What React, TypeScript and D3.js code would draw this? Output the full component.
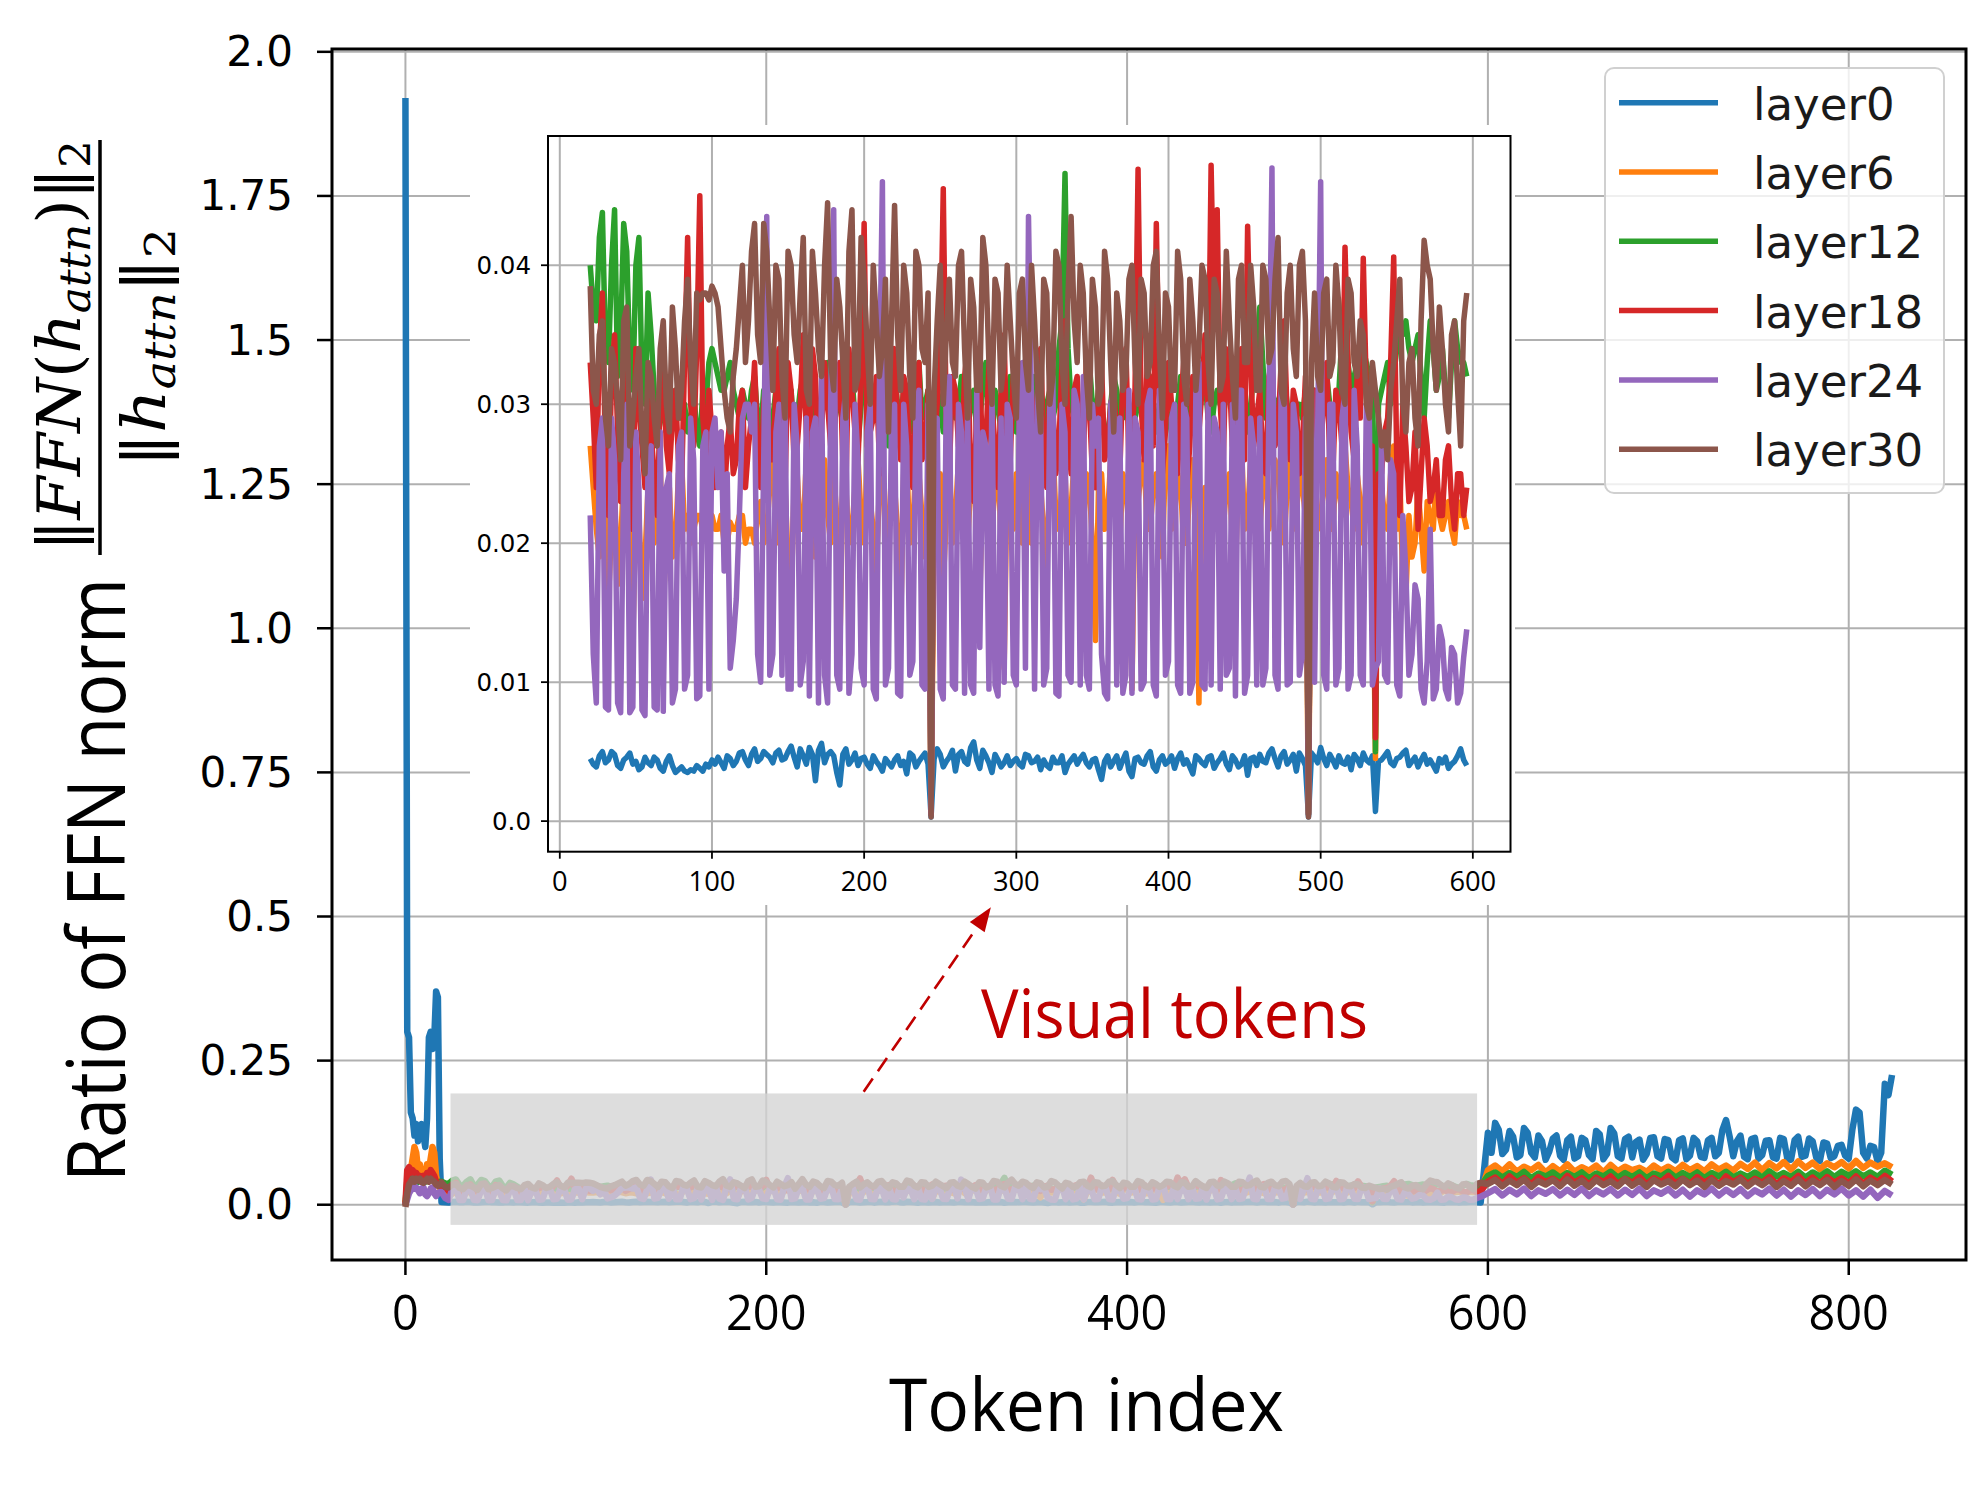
import React from "react";
import * as d3 from "d3";

const W = 1980;
const H = 1507;

const LAYERS = ["layer0", "layer6", "layer12", "layer18", "layer24", "layer30"];
const COLORS = ["#1f77b4", "#ff7f0e", "#2ca02c", "#d62728", "#9467bd", "#8c564b"];

// token indices: system prefix, visual tokens (two interleaved samplings), text tokens
const PREFIX_TOKENS = d3.range(0, 20);
const VIS_TOKENS = d3.range(20, 597, 4);
const VIS_TOKENS_B = d3.range(22, 595, 4);
const TEXT_TOKENS = d3.range(600, 825, 4);
const TEXT_TOKENS_B = d3.range(602, 823, 4);

// ---- prefix tokens 0..19
const PRE_L0 = [1.92, 0.3, 0.29, 0.16, 0.15, 0.12, 0.14, 0.11, 0.13, 0.14, 0.12, 0.1, 0.15, 0.29, 0.3, 0.27, 0.29, 0.37, 0.36, 0.08];
const PRE_L6 = [0.0, 0.03, 0.05, 0.06, 0.08, 0.1, 0.09, 0.06, 0.07, 0.05, 0.06, 0.05, 0.07, 0.06, 0.08, 0.1, 0.09, 0.05, 0.035, 0.03];
const PRE_L12 = [0.0, 0.04, 0.05, 0.045, 0.05, 0.04, 0.045, 0.04, 0.045, 0.04, 0.045, 0.04, 0.05, 0.045, 0.05, 0.045, 0.04, 0.04, 0.038, 0.04];
const PRE_L18 = [0.0, 0.06, 0.065, 0.055, 0.06, 0.05, 0.055, 0.045, 0.05, 0.04, 0.05, 0.045, 0.055, 0.05, 0.06, 0.055, 0.05, 0.04, 0.035, 0.033];
const PRE_L24 = [0.0, 0.01, 0.02, 0.025, 0.03, 0.028, 0.03, 0.025, 0.02, 0.028, 0.03, 0.018, 0.015, 0.02, 0.028, 0.03, 0.02, 0.015, 0.02, 0.022];
const PRE_L30 = [-0.004, 0.02, 0.035, 0.04, 0.045, 0.04, 0.045, 0.042, 0.045, 0.04, 0.038, 0.042, 0.045, 0.04, 0.045, 0.042, 0.04, 0.035, 0.033, 0.035];

// ---- visual tokens 20, 24, ..., 596
const VIS_L0 = [
  0.0045, 0.0039, 0.005, 0.0044, 0.0048, 0.0038, 0.0046, 0.0041, 0.0037, 0.0046,
  0.004, 0.0044, 0.0036, 0.0047, 0.0035, 0.0039, 0.0035, 0.0036, 0.0038, 0.0041,
  0.0044, 0.0046, 0.0038, 0.0045, 0.0043, 0.005, 0.004, 0.0052, 0.0045, 0.0048,
  0.0042, 0.0051, 0.0045, 0.0054, 0.0039, 0.0047, 0.0053, 0.0029, 0.0056, 0.0048,
  0.0047, 0.0026, 0.0052, 0.0044, 0.004, 0.0046, 0.0038, 0.0043, 0.0036, 0.0042,
  0.0044, 0.004, 0.0034, 0.0047, 0.0043, 0.0049, 0.0003, 0.0052, 0.0039, 0.0046,
  0.0036, 0.005, 0.0041, 0.0057, 0.0038, 0.0047, 0.0035, 0.0044, 0.0042, 0.004,
  0.0045, 0.0039, 0.0047, 0.0043, 0.0037, 0.004, 0.0046, 0.0042, 0.0035, 0.0044,
  0.0041, 0.0048, 0.0039, 0.0045, 0.003, 0.0047, 0.0043, 0.0038, 0.0049, 0.0032,
  0.0046, 0.0041, 0.005, 0.0036, 0.0047, 0.0043, 0.0038, 0.0049, 0.0044, 0.0034,
  0.0045, 0.004, 0.0047, 0.0042, 0.0049, 0.0037, 0.0044, 0.0041, 0.0033, 0.0046,
  0.0048, 0.0042, 0.0052, 0.0039, 0.005, 0.0044, 0.0036, 0.0045, 0.0003, 0.0046,
  0.0053, 0.004, 0.0044, 0.0047, 0.0041, 0.0037, 0.0045, 0.0049, 0.0042, 0.0007,
  0.0044, 0.005, 0.004, 0.0046, 0.0051, 0.0043, 0.0039, 0.0048, 0.0044, 0.0036,
  0.0042, 0.0038, 0.0043, 0.0052, 0.004,
];
const VIS_L6 = [
  0.027, 0.021, 0.025, 0.016, 0.024, 0.02, 0.026, 0.013, 0.022, 0.019,
  0.025, 0.021, 0.015, 0.024, 0.02, 0.026, 0.022, 0.021, 0.022, 0.021,
  0.022, 0.021, 0.02, 0.0215, 0.021, 0.022, 0.021, 0.02, 0.023, 0.021,
  0.026, 0.02, 0.024, 0.016, 0.025, 0.021, 0.027, 0.019, 0.023, 0.022,
  0.025, 0.012, 0.024, 0.021, 0.026, 0.02, 0.023, 0.018, 0.027, 0.021,
  0.024, 0.014, 0.026, 0.021, 0.025, 0.019, 0.0006, 0.023, 0.017, 0.026,
  0.022, 0.025, 0.02, 0.027, 0.016, 0.024, 0.021, 0.026, 0.011, 0.023,
  0.025, 0.02, 0.026, 0.022, 0.024, 0.018, 0.027, 0.021, 0.025, 0.0225,
  0.026, 0.021, 0.024, 0.013, 0.025, 0.022, 0.027, 0.02, 0.024, 0.0095,
  0.023, 0.026, 0.021, 0.025, 0.019, 0.027, 0.022, 0.024, 0.02, 0.026,
  0.0085, 0.024, 0.022, 0.026, 0.021, 0.025, 0.018, 0.027, 0.022, 0.024,
  0.021, 0.026, 0.023, 0.025, 0.02, 0.027, 0.022, 0.024, 0.0006, 0.025,
  0.022, 0.026, 0.021, 0.024, 0.027, 0.023, 0.025, 0.02, 0.026, 0.0045,
  0.024, 0.021, 0.027, 0.025, 0.016, 0.019, 0.024, 0.018, 0.022, 0.025,
  0.021, 0.023, 0.02, 0.022, 0.021,
];
const VIS_L12 = [
  0.04, 0.036, 0.0438, 0.033, 0.044, 0.035, 0.041, 0.031, 0.042, 0.03,
  0.035, 0.027, 0.03, 0.028, 0.031, 0.029, 0.028, 0.031, 0.027, 0.03,
  0.034, 0.032, 0.031, 0.033, 0.03, 0.031, 0.029, 0.032, 0.028, 0.03,
  0.029, 0.033, 0.028, 0.031, 0.029, 0.032, 0.027, 0.03, 0.029, 0.033,
  0.028, 0.031, 0.029, 0.032, 0.027, 0.034, 0.028, 0.03, 0.029, 0.027,
  0.032, 0.029, 0.031, 0.028, 0.033, 0.03, 0.0005, 0.031, 0.028, 0.03,
  0.029, 0.032, 0.028, 0.031, 0.029, 0.033, 0.027, 0.03, 0.029, 0.032,
  0.028, 0.031, 0.03, 0.032, 0.027, 0.03, 0.029, 0.034, 0.0466, 0.03,
  0.031, 0.028, 0.033, 0.029, 0.03, 0.027, 0.032, 0.029, 0.031, 0.028,
  0.03, 0.029, 0.032, 0.028, 0.031, 0.029, 0.027, 0.032, 0.029, 0.03,
  0.029, 0.032, 0.028, 0.031, 0.029, 0.033, 0.029, 0.03, 0.028, 0.032,
  0.037, 0.029, 0.031, 0.03, 0.032, 0.028, 0.03, 0.029, 0.0005, 0.031,
  0.03, 0.032, 0.029, 0.031, 0.038, 0.031, 0.033, 0.034, 0.032, 0.005,
  0.031, 0.033, 0.032, 0.035, 0.036, 0.033, 0.035, 0.029, 0.036, 0.031,
  0.034, 0.029, 0.036, 0.033, 0.032,
];
const VIS_L18 = [
  0.033, 0.024, 0.038, 0.022, 0.035, 0.023, 0.036, 0.021, 0.03, 0.024,
  0.028, 0.022, 0.034, 0.025, 0.031, 0.024, 0.042, 0.027, 0.045, 0.026,
  0.028, 0.025, 0.023, 0.029, 0.026, 0.031, 0.027, 0.033, 0.024, 0.032,
  0.026, 0.034, 0.024, 0.031, 0.027, 0.035, 0.025, 0.032, 0.028, 0.03,
  0.027, 0.033, 0.024, 0.031, 0.026, 0.043, 0.028, 0.032, 0.025, 0.03,
  0.034, 0.026, 0.031, 0.024, 0.033, 0.027, 0.0005, 0.03, 0.0455, 0.025,
  0.031, 0.026, 0.034, 0.023, 0.032, 0.027, 0.03, 0.024, 0.035, 0.026,
  0.033, 0.025, 0.031, 0.028, 0.034, 0.024, 0.03, 0.027, 0.036, 0.025,
  0.032, 0.026, 0.03, 0.024, 0.033, 0.027, 0.031, 0.025, 0.034, 0.028,
  0.0469, 0.026, 0.031, 0.043, 0.025, 0.033, 0.027, 0.03, 0.024, 0.032,
  0.028, 0.035, 0.0472, 0.044, 0.026, 0.032, 0.029, 0.034, 0.0428, 0.027,
  0.031, 0.025, 0.033, 0.028, 0.036, 0.026, 0.03, 0.027, 0.0005, 0.031,
  0.027, 0.033, 0.025, 0.03, 0.0413, 0.028, 0.032, 0.0405, 0.026, 0.006,
  0.025, 0.029, 0.0406, 0.022, 0.027, 0.024, 0.021, 0.029, 0.023, 0.026,
  0.022, 0.027, 0.021, 0.025, 0.024,
];
const VIS_L24 = [
  0.022, 0.0085, 0.029, 0.008, 0.026, 0.0078, 0.03, 0.0082, 0.024, 0.0076,
  0.027, 0.008, 0.0079, 0.025, 0.0095, 0.028, 0.0105, 0.026, 0.009, 0.028,
  0.028, 0.024, 0.018, 0.011, 0.016, 0.029, 0.03, 0.03, 0.01, 0.0435,
  0.012, 0.03, 0.031, 0.0095, 0.027, 0.0115, 0.009, 0.029, 0.032, 0.0085,
  0.044, 0.0095, 0.031, 0.012, 0.026, 0.0098, 0.03, 0.0088, 0.046, 0.011,
  0.03, 0.009, 0.027, 0.0115, 0.031, 0.0095, 0.0005, 0.029, 0.0088, 0.032,
  0.0095, 0.028, 0.03, 0.0092, 0.0125, 0.027, 0.031, 0.009, 0.01, 0.029,
  0.0098, 0.033, 0.0435, 0.0095, 0.029, 0.011, 0.032, 0.009, 0.028, 0.01,
  0.03, 0.032, 0.0095, 0.027, 0.012, 0.0088, 0.031, 0.029, 0.0105, 0.0092,
  0.028, 0.01, 0.031, 0.009, 0.027, 0.0115, 0.03, 0.0092, 0.029, 0.01,
  0.033, 0.0095, 0.0098, 0.028, 0.03, 0.011, 0.009, 0.031, 0.0105, 0.027,
  0.029, 0.011, 0.047, 0.0095, 0.032, 0.01, 0.028, 0.012, 0.0005, 0.01,
  0.046, 0.0095, 0.03, 0.011, 0.031, 0.0105, 0.027, 0.0098, 0.029, 0.011,
  0.028, 0.01, 0.025, 0.009, 0.018, 0.012, 0.016, 0.0085, 0.021, 0.0095,
  0.013, 0.0088, 0.012, 0.0092, 0.0138,
];
const VIS_L30 = [
  0.0385, 0.03, 0.036, 0.027, 0.033, 0.026, 0.037, 0.029, 0.034, 0.025,
  0.032, 0.027, 0.036, 0.028, 0.034, 0.031, 0.039, 0.03, 0.0375, 0.038,
  0.0385, 0.037, 0.031, 0.028, 0.034, 0.04, 0.036, 0.043, 0.033, 0.041,
  0.031, 0.039, 0.029, 0.04, 0.033, 0.042, 0.03, 0.038, 0.032, 0.0445,
  0.031, 0.037, 0.029, 0.044, 0.032, 0.039, 0.03, 0.036, 0.034, 0.028,
  0.0443, 0.031, 0.038, 0.029, 0.04, 0.033, 0.0003, 0.036, 0.03, 0.039,
  0.032, 0.041, 0.029, 0.037, 0.031, 0.04, 0.03, 0.038, 0.033, 0.036,
  0.029, 0.039, 0.031, 0.036, 0.028, 0.038, 0.032, 0.04, 0.03, 0.0435,
  0.033, 0.038, 0.029, 0.037, 0.031, 0.039, 0.028, 0.036, 0.032, 0.04,
  0.03, 0.038, 0.033, 0.041, 0.029, 0.037, 0.031, 0.039, 0.03, 0.036,
  0.034, 0.039, 0.03, 0.038, 0.032, 0.036, 0.029, 0.04, 0.033, 0.037,
  0.031, 0.039, 0.034, 0.042, 0.03, 0.04, 0.032, 0.041, 0.0003, 0.038,
  0.031, 0.039, 0.033, 0.037, 0.03, 0.038, 0.032, 0.035, 0.029, 0.031,
  0.027, 0.026, 0.033, 0.039, 0.028, 0.034, 0.027, 0.0418, 0.039, 0.031,
  0.034, 0.028, 0.036, 0.027, 0.038,
];

// ---- visual tokens 22, 26, ..., 594
const VIS_L0_B = [
  0.0041, 0.0047, 0.0042, 0.005, 0.004, 0.0044, 0.0049, 0.0043, 0.0039, 0.0042,
  0.0046, 0.0038, 0.0043, 0.004, 0.0037, 0.0036, 0.0037, 0.004, 0.0036, 0.0039,
  0.0041, 0.0042, 0.0047, 0.004, 0.0049, 0.0044, 0.0048, 0.0043, 0.005, 0.0046,
  0.0049, 0.0044, 0.005, 0.0046, 0.0052, 0.0041, 0.0048, 0.0051, 0.0042, 0.005,
  0.0035, 0.0048, 0.0041, 0.0049, 0.0045, 0.0041, 0.0047, 0.004, 0.0045, 0.0039,
  0.0047, 0.0043, 0.0049, 0.0039, 0.0046, 0.0041, 0.0045, 0.0048, 0.0043, 0.0051,
  0.0048, 0.0043, 0.0053, 0.0044, 0.0051, 0.0042, 0.0048, 0.0039, 0.0047, 0.0043,
  0.0041, 0.0048, 0.0042, 0.0046, 0.0044, 0.0038, 0.0042, 0.0047, 0.0041, 0.0047,
  0.0045, 0.0042, 0.0044, 0.0037, 0.0043, 0.0039, 0.0047, 0.0044, 0.0036, 0.0045,
  0.0042, 0.0047, 0.0039, 0.0044, 0.0041, 0.0047, 0.0045, 0.0041, 0.0039, 0.0047,
  0.0042, 0.0046, 0.0038, 0.0045, 0.0041, 0.0047, 0.0039, 0.0047, 0.0045, 0.004,
  0.0043, 0.0049, 0.0045, 0.0047, 0.0041, 0.0048, 0.0049, 0.004, 0.0049, 0.0042,
  0.0045, 0.0048, 0.0039, 0.0042, 0.0046, 0.0048, 0.004, 0.0044, 0.0047, 0.0043,
  0.0047, 0.0042, 0.0045, 0.0049, 0.004, 0.0046, 0.0044, 0.0041, 0.004, 0.0045,
  0.0046, 0.0041, 0.0047, 0.0044,
];
const VIS_L6_B = [
  0.024, 0.019, 0.026, 0.021, 0.017, 0.025, 0.02, 0.023, 0.016, 0.024,
  0.02, 0.026, 0.021, 0.019, 0.025, 0.021, 0.02, 0.022, 0.021, 0.022,
  0.021, 0.022, 0.02, 0.021, 0.022, 0.02, 0.021, 0.022, 0.02, 0.024,
  0.022, 0.025, 0.019, 0.024, 0.021, 0.026, 0.02, 0.024, 0.026, 0.02,
  0.022, 0.025, 0.02, 0.024, 0.022, 0.026, 0.021, 0.024, 0.02, 0.025,
  0.021, 0.025, 0.02, 0.026, 0.022, 0.024, 0.021, 0.025, 0.022, 0.02,
  0.026, 0.021, 0.024, 0.02, 0.025, 0.022, 0.024, 0.02, 0.025, 0.021,
  0.022, 0.025, 0.02, 0.026, 0.021, 0.025, 0.022, 0.024, 0.02, 0.026,
  0.022, 0.025, 0.02, 0.024, 0.021, 0.026, 0.022, 0.025, 0.021, 0.024,
  0.025, 0.021, 0.024, 0.022, 0.026, 0.021, 0.025, 0.02, 0.024, 0.022,
  0.023, 0.021, 0.025, 0.022, 0.024, 0.02, 0.025, 0.021, 0.026, 0.022,
  0.024, 0.021, 0.026, 0.022, 0.024, 0.021, 0.025, 0.022, 0.024, 0.021,
  0.024, 0.021, 0.025, 0.022, 0.024, 0.021, 0.023, 0.025, 0.022, 0.024,
  0.022, 0.025, 0.021, 0.017, 0.022, 0.02, 0.021, 0.023, 0.021, 0.022,
  0.022, 0.021, 0.023, 0.022,
];
const VIS_L12_B = [
  0.037, 0.042, 0.034, 0.04, 0.032, 0.043, 0.033, 0.04, 0.032, 0.038,
  0.031, 0.029, 0.028, 0.03, 0.029, 0.03, 0.029, 0.028, 0.031, 0.033,
  0.033, 0.031, 0.032, 0.031, 0.029, 0.03, 0.031, 0.029, 0.031, 0.028,
  0.031, 0.029, 0.03, 0.028, 0.031, 0.029, 0.031, 0.028, 0.031, 0.029,
  0.03, 0.028, 0.031, 0.029, 0.03, 0.029, 0.031, 0.028, 0.03, 0.029,
  0.03, 0.031, 0.029, 0.031, 0.029, 0.031, 0.029, 0.03, 0.029, 0.031,
  0.03, 0.029, 0.03, 0.028, 0.031, 0.029, 0.031, 0.028, 0.03, 0.029,
  0.03, 0.029, 0.031, 0.029, 0.028, 0.031, 0.03, 0.036, 0.034, 0.029,
  0.029, 0.031, 0.03, 0.031, 0.028, 0.03, 0.031, 0.029, 0.03, 0.029,
  0.031, 0.03, 0.029, 0.03, 0.03, 0.028, 0.03, 0.03, 0.031, 0.029,
  0.031, 0.029, 0.03, 0.03, 0.031, 0.03, 0.031, 0.029, 0.03, 0.034,
  0.033, 0.03, 0.03, 0.031, 0.03, 0.029, 0.03, 0.031, 0.03, 0.029,
  0.031, 0.03, 0.03, 0.035, 0.033, 0.032, 0.034, 0.033, 0.031, 0.03,
  0.032, 0.03, 0.034, 0.035, 0.034, 0.034, 0.032, 0.033, 0.034, 0.032,
  0.031, 0.033, 0.034, 0.033,
];
const VIS_L18_B = [
  0.029, 0.034, 0.026, 0.032, 0.028, 0.033, 0.025, 0.034, 0.027, 0.031,
  0.025, 0.03, 0.027, 0.029, 0.026, 0.033, 0.03, 0.034, 0.029, 0.031,
  0.024, 0.028, 0.027, 0.025, 0.03, 0.024, 0.029, 0.027, 0.03, 0.026,
  0.031, 0.027, 0.033, 0.026, 0.03, 0.028, 0.034, 0.026, 0.033, 0.027,
  0.031, 0.026, 0.034, 0.028, 0.032, 0.027, 0.029, 0.026, 0.033, 0.028,
  0.029, 0.032, 0.027, 0.03, 0.026, 0.031, 0.027, 0.033, 0.028, 0.032,
  0.027, 0.032, 0.025, 0.03, 0.026, 0.033, 0.027, 0.031, 0.025, 0.032,
  0.028, 0.032, 0.026, 0.031, 0.027, 0.032, 0.025, 0.033, 0.028, 0.031,
  0.027, 0.033, 0.025, 0.031, 0.026, 0.03, 0.028, 0.032, 0.026, 0.031,
  0.03, 0.033, 0.027, 0.031, 0.028, 0.03, 0.025, 0.033, 0.027, 0.03,
  0.031, 0.029, 0.036, 0.03, 0.034, 0.027, 0.031, 0.026, 0.033, 0.029,
  0.026, 0.032, 0.027, 0.033, 0.029, 0.031, 0.025, 0.032, 0.028, 0.026,
  0.03, 0.026, 0.031, 0.027, 0.033, 0.026, 0.029, 0.031, 0.027, 0.025,
  0.028, 0.033, 0.026, 0.03, 0.023, 0.028, 0.025, 0.027, 0.024, 0.022,
  0.026, 0.023, 0.025, 0.022,
];
const VIS_L24_B = [
  0.012, 0.027, 0.0082, 0.029, 0.0085, 0.025, 0.0078, 0.028, 0.008, 0.026,
  0.0082, 0.028, 0.024, 0.0085, 0.027, 0.0095, 0.029, 0.0088, 0.027, 0.0095,
  0.029, 0.028, 0.025, 0.013, 0.022, 0.03, 0.028, 0.012, 0.026, 0.0105,
  0.028, 0.0105, 0.0095, 0.03, 0.0098, 0.029, 0.028, 0.0085, 0.0105, 0.03,
  0.0105, 0.029, 0.0092, 0.03, 0.011, 0.028, 0.0095, 0.031, 0.0098, 0.029,
  0.0092, 0.03, 0.0105, 0.029, 0.0098, 0.03, 0.028, 0.0095, 0.031, 0.0098,
  0.03, 0.0092, 0.0098, 0.031, 0.028, 0.0095, 0.0098, 0.029, 0.03, 0.0105,
  0.03, 0.011, 0.03, 0.031, 0.0098, 0.03, 0.0092, 0.03, 0.0105, 0.031,
  0.0098, 0.0105, 0.03, 0.029, 0.0092, 0.03, 0.0098, 0.0092, 0.031, 0.029,
  0.0095, 0.03, 0.0098, 0.031, 0.0105, 0.029, 0.0098, 0.03, 0.0092, 0.031,
  0.0098, 0.03, 0.029, 0.0095, 0.0105, 0.03, 0.031, 0.0092, 0.029, 0.0098,
  0.0098, 0.03, 0.0105, 0.031, 0.0098, 0.03, 0.0105, 0.029, 0.031, 0.028,
  0.0105, 0.03, 0.0098, 0.029, 0.0095, 0.031, 0.0105, 0.03, 0.0098, 0.0115,
  0.0105, 0.026, 0.0098, 0.022, 0.0105, 0.017, 0.0095, 0.0115, 0.0088, 0.014,
  0.0095, 0.0125, 0.0085, 0.0118,
];
const VIS_L30_B = [
  0.031, 0.035, 0.029, 0.034, 0.03, 0.036, 0.027, 0.032, 0.028, 0.033,
  0.029, 0.034, 0.03, 0.037, 0.029, 0.036, 0.033, 0.038, 0.038, 0.0375,
  0.038, 0.034, 0.029, 0.032, 0.037, 0.033, 0.041, 0.035, 0.043, 0.036,
  0.04, 0.032, 0.041, 0.035, 0.038, 0.031, 0.041, 0.034, 0.04, 0.033,
  0.039, 0.033, 0.041, 0.031, 0.042, 0.034, 0.04, 0.032, 0.039, 0.036,
  0.035, 0.04, 0.032, 0.041, 0.034, 0.038, 0.031, 0.04, 0.035, 0.033,
  0.04, 0.034, 0.039, 0.031, 0.042, 0.033, 0.039, 0.031, 0.04, 0.032,
  0.038, 0.033, 0.04, 0.031, 0.039, 0.03, 0.041, 0.033, 0.038, 0.036,
  0.04, 0.032, 0.039, 0.03, 0.041, 0.033, 0.038, 0.031, 0.039, 0.033,
  0.039, 0.032, 0.04, 0.034, 0.038, 0.031, 0.041, 0.032, 0.039, 0.031,
  0.04, 0.033, 0.039, 0.031, 0.041, 0.032, 0.039, 0.033, 0.04, 0.031,
  0.04, 0.033, 0.039, 0.031, 0.038, 0.034, 0.04, 0.036, 0.033, 0.032,
  0.038, 0.032, 0.04, 0.031, 0.039, 0.033, 0.036, 0.03, 0.033, 0.029,
  0.028, 0.031, 0.036, 0.03, 0.033, 0.029, 0.036, 0.04, 0.034, 0.037,
  0.03, 0.035, 0.031, 0.036,
];

// ---- text tokens 600, 604, ..., 824
const TXT_L0 = [
  0.125, 0.142, 0.088, 0.128, 0.082, 0.133, 0.09, 0.12, 0.078, 0.115,
  0.085, 0.112, 0.08, 0.116, 0.086, 0.128, 0.079, 0.133, 0.084, 0.114,
  0.082, 0.113, 0.088, 0.117, 0.08, 0.112, 0.077, 0.115, 0.085, 0.11,
  0.081, 0.116, 0.09, 0.147, 0.084, 0.12, 0.079, 0.116, 0.086, 0.112,
  0.08, 0.114, 0.078, 0.118, 0.085, 0.11, 0.076, 0.106, 0.084, 0.104,
  0.08, 0.165, 0.09, 0.102, 0.075, 0.21, 0.225,
];
const TXT_L6 = [
  0.06, 0.068, 0.058, 0.07, 0.057, 0.066, 0.06, 0.069, 0.056, 0.067,
  0.058, 0.07, 0.057, 0.065, 0.059, 0.068, 0.056, 0.069, 0.058, 0.066,
  0.06, 0.064, 0.057, 0.068, 0.059, 0.066, 0.058, 0.069, 0.06, 0.067,
  0.058, 0.07, 0.061, 0.068, 0.059, 0.071, 0.062, 0.073, 0.06, 0.072,
  0.063, 0.074, 0.061, 0.075, 0.064, 0.073, 0.062, 0.072, 0.065, 0.074,
  0.063, 0.076, 0.064, 0.073, 0.066, 0.072, 0.065,
];
const TXT_L12 = [
  0.05, 0.056, 0.047, 0.055, 0.048, 0.057, 0.046, 0.054, 0.049, 0.056,
  0.047, 0.055, 0.048, 0.056, 0.046, 0.054, 0.049, 0.057, 0.047, 0.055,
  0.048, 0.056, 0.046, 0.054, 0.049, 0.057, 0.047, 0.055, 0.048, 0.056,
  0.046, 0.055, 0.049, 0.057, 0.047, 0.054, 0.048, 0.056, 0.047, 0.058,
  0.049, 0.055, 0.048, 0.057, 0.047, 0.056, 0.049, 0.058, 0.048, 0.057,
  0.05, 0.058, 0.049, 0.056, 0.048, 0.059, 0.052,
];
const TXT_L18 = [
  0.04, 0.047, 0.036, 0.049, 0.038, 0.046, 0.035, 0.048, 0.039, 0.045,
  0.036, 0.05, 0.038, 0.046, 0.035, 0.047, 0.039, 0.049, 0.036, 0.045,
  0.038, 0.048, 0.035, 0.046, 0.039, 0.05, 0.037, 0.045, 0.036, 0.048,
  0.038, 0.046, 0.035, 0.049, 0.039, 0.047, 0.036, 0.045, 0.038, 0.048,
  0.035, 0.046, 0.039, 0.05, 0.037, 0.047, 0.036, 0.048, 0.038, 0.046,
  0.037, 0.049, 0.036, 0.047, 0.039, 0.05, 0.04,
];
const TXT_L24 = [
  0.02, 0.027, 0.016, 0.026, 0.018, 0.028, 0.015, 0.025, 0.019, 0.027,
  0.016, 0.026, 0.017, 0.028, 0.015, 0.025, 0.018, 0.027, 0.016, 0.026,
  0.017, 0.028, 0.015, 0.025, 0.019, 0.027, 0.016, 0.026, 0.014, 0.025,
  0.018, 0.028, 0.016, 0.026, 0.017, 0.027, 0.015, 0.025, 0.018, 0.028,
  0.016, 0.026, 0.014, 0.025, 0.017, 0.027, 0.015, 0.026, 0.018, 0.028,
  0.016, 0.025, 0.014, 0.026, 0.012, 0.024, 0.016,
];
const TXT_L30 = [
  0.036, 0.043, 0.032, 0.042, 0.034, 0.044, 0.031, 0.041, 0.035, 0.043,
  0.032, 0.044, 0.033, 0.042, 0.031, 0.043, 0.034, 0.041, 0.032, 0.044,
  0.033, 0.042, 0.031, 0.043, 0.035, 0.041, 0.032, 0.044, 0.034, 0.042,
  0.031, 0.043, 0.033, 0.041, 0.035, 0.044, 0.032, 0.042, 0.034, 0.043,
  0.031, 0.041, 0.033, 0.044, 0.032, 0.042, 0.034, 0.043, 0.031, 0.041,
  0.033, 0.044, 0.032, 0.042, 0.034, 0.043, 0.035,
];
// layer0 on text tokens 602, 606, ..., 822
const TXT_L0_B = [
  0.09, 0.13, 0.095, 0.118, 0.086, 0.125, 0.082, 0.11, 0.092, 0.12,
  0.078, 0.118, 0.084, 0.112, 0.079, 0.122, 0.088, 0.124, 0.08, 0.118,
  0.109, 0.078, 0.116, 0.084, 0.114, 0.082, 0.112, 0.079, 0.116, 0.083,
  0.112, 0.084, 0.13, 0.118, 0.11, 0.083, 0.114, 0.08, 0.111, 0.082,
  0.116, 0.079, 0.112, 0.083, 0.115, 0.082, 0.108, 0.081, 0.102, 0.085,
  0.13, 0.16, 0.08, 0.1, 0.09, 0.19,
];

const PRE = [PRE_L0, PRE_L6, PRE_L12, PRE_L18, PRE_L24, PRE_L30];
const VIS = [VIS_L0, VIS_L6, VIS_L12, VIS_L18, VIS_L24, VIS_L30];
const VIS_B = [VIS_L0_B, VIS_L6_B, VIS_L12_B, VIS_L18_B, VIS_L24_B, VIS_L30_B];
const TXT = [TXT_L0, TXT_L6, TXT_L12, TXT_L18, TXT_L24, TXT_L30];
const TXT_B = [TXT_L0_B, [], [], [], [], []];

// ticks
const MAIN_X_TICKS = [0, 200, 400, 600, 800];
const MAIN_Y_TICKS = [0, 0.25, 0.5, 0.75, 1.0, 1.25, 1.5, 1.75, 2.0];
const MAIN_Y_LABELS = ["0.0", "0.25", "0.5", "0.75", "1.0", "1.25", "1.5", "1.75", "2.0"];
const INSET_X_TICKS = [0, 100, 200, 300, 400, 500, 600];
const INSET_Y_TICKS = [0, 0.01, 0.02, 0.03, 0.04];
const INSET_Y_LABELS = ["0.0", "0.01", "0.02", "0.03", "0.04"];

// annotation (data coords of main axes)
const BAND_X = [25, 594];
const BAND_Y = [-0.035, 0.193];
const ARROW_FROM = [254, 0.196];
const ARROW_TO = [324.5, 0.516];
const NOTE_AT = [319, 0.29];

const GRID = "#b0b0b0";
const CALIBRI_LIKE = "'Open Sans', 'Noto Sans', sans-serif";
const MPL_FONT = "'DejaVu Sans', sans-serif";

const xMain = d3.scaleLinear().domain([-40.7, 865]).range([332, 1966]);
const yMain = d3.scaleLinear().domain([-0.0959, 2.0049]).range([1260, 49]);
const xIn = d3.scaleLinear().domain([-7.75, 624.75]).range([548, 1510.5]);
const yIn = d3.scaleLinear().domain([-0.0022, 0.0493]).range([851.7, 136]);

type Pt = [number, number];

function pairs(tokens: number[], values: number[]): Pt[] {
  return tokens
    .map((t, i) => [t, values[i]] as Pt)
    .filter((d) => d[1] !== undefined);
}

function merged(a: Pt[], b: Pt[]): Pt[] {
  return [...a, ...b].sort((p, q) => p[0] - q[0]);
}

function visSeries(k: number): Pt[] {
  return merged(pairs(VIS_TOKENS, VIS[k]), pairs(VIS_TOKENS_B, VIS_B[k]));
}

function mainSeries(k: number): Pt[] {
  return [
    ...pairs(PREFIX_TOKENS, PRE[k]),
    ...visSeries(k),
    ...merged(pairs(TEXT_TOKENS, TXT[k]), pairs(TEXT_TOKENS_B, TXT_B[k])),
  ];
}

export default function App() {
  const mainLine = d3
    .line<Pt>()
    .x((d) => xMain(d[0]))
    .y((d) => yMain(d[1]));
  const insetLine = d3
    .line<Pt>()
    .x((d) => xIn(d[0]))
    .y((d) => yIn(d[1]));

  const [mx0, mx1] = xMain.range();
  const [my0, my1] = yMain.range();
  const [ix0, ix1] = xIn.range();
  const [iy0, iy1] = yIn.range();

  // arrow geometry
  const ax0 = xMain(ARROW_FROM[0]);
  const ay0 = yMain(ARROW_FROM[1]);
  const ax1 = xMain(ARROW_TO[0]);
  const ay1 = yMain(ARROW_TO[1]);
  const ang = Math.atan2(ay1 - ay0, ax1 - ax0);
  const headLen = 24;
  const headW = 9;
  const bx = ax1 - headLen * Math.cos(ang);
  const by = ay1 - headLen * Math.sin(ang);
  const head = [
    [ax1, ay1],
    [bx + headW * Math.sin(ang), by - headW * Math.cos(ang)],
    [bx - headW * Math.sin(ang), by + headW * Math.cos(ang)],
  ]
    .map((p) => p.join(","))
    .join(" ");

  const legendRowY = (i: number) => 102.7 + i * 69.3;

  return (
    <div style={{ position: "absolute", left: 0, top: 0 }}>
      <svg width={W} height={H} viewBox={`0 0 ${W} ${H}`} style={{ display: "block", background: "#fff" }}>
        <defs>
          <clipPath id="main-clip">
            <rect x={mx0} y={my1} width={mx1 - mx0} height={my0 - my1} />
          </clipPath>
          <clipPath id="inset-clip">
            <rect x={ix0} y={iy1} width={ix1 - ix0} height={iy0 - iy1} />
          </clipPath>
        </defs>
        <rect width={W} height={H} fill="#fff" />

        {/* main grid */}
        <g stroke={GRID} strokeWidth={2}>
          {MAIN_X_TICKS.map((t) => (
            <line key={`gx${t}`} x1={xMain(t)} x2={xMain(t)} y1={my1} y2={my0} />
          ))}
          {MAIN_Y_TICKS.map((t) => (
            <line key={`gy${t}`} x1={mx0} x2={mx1} y1={yMain(t)} y2={yMain(t)} />
          ))}
        </g>

        {/* main series */}
        <g clipPath="url(#main-clip)" fill="none" strokeLinejoin="round">
          {LAYERS.map((name, k) => (
            <path key={name} d={mainLine(mainSeries(k)) || ""} stroke={COLORS[k]} strokeWidth={6.5} />
          ))}
        </g>

        {/* visual tokens band */}
        <rect
          x={xMain(BAND_X[0])}
          y={yMain(BAND_Y[1])}
          width={xMain(BAND_X[1]) - xMain(BAND_X[0])}
          height={yMain(BAND_Y[0]) - yMain(BAND_Y[1])}
          fill="#d3d3d3"
          fillOpacity={0.78}
        />

        {/* main spines + ticks */}
        <rect x={mx0} y={my1} width={mx1 - mx0} height={my0 - my1} fill="none" stroke="#000" strokeWidth={3} />
        <g stroke="#000" strokeWidth={2.5}>
          {MAIN_Y_TICKS.map((t) => (
            <line key={`ty${t}`} x1={mx0 - 15} x2={mx0} y1={yMain(t)} y2={yMain(t)} />
          ))}
          {MAIN_X_TICKS.map((t) => (
            <line key={`tx${t}`} x1={xMain(t)} x2={xMain(t)} y1={my0} y2={my0 + 15} />
          ))}
        </g>
        <g fontFamily={MPL_FONT} fontSize={42} fill="#000" textAnchor="end">
          {MAIN_Y_TICKS.map((t, i) => (
            <text key={`ly${t}`} x={293} y={yMain(t)} dominantBaseline="central">
              {MAIN_Y_LABELS[i]}
            </text>
          ))}
        </g>
        <g fontFamily={CALIBRI_LIKE} fontSize={50} fill="#000" textAnchor="middle">
          {MAIN_X_TICKS.map((t) => (
            <text
              key={`lx${t}`}
              x={xMain(t)}
              y={1330}
              textLength={26.8 * String(t).length}
              lengthAdjust="spacingAndGlyphs"
            >
              {t}
            </text>
          ))}
        </g>

        {/* axis titles */}
        <text
          x={889}
          y={1431}
          fontFamily={CALIBRI_LIKE}
          fontSize={74}
          textLength={395}
          lengthAdjust="spacingAndGlyphs"
        >
          Token index
        </text>
        <g transform="rotate(-90)" fill="#000">
          <text
            x={-1182}
            y={125}
            fontFamily={CALIBRI_LIKE}
            fontSize={80}
            textLength={604}
            lengthAdjust="spacingAndGlyphs"
          >
            Ratio of FFN norm
          </text>
          <text
            x={-551}
            y={80}
            fontFamily="'DejaVu Serif', serif"
            fontSize={60}
            textLength={411}
            lengthAdjust="spacingAndGlyphs"
          >
            ‖<tspan fontStyle="italic">FFN</tspan>(<tspan fontStyle="italic">h</tspan>
            <tspan fontStyle="italic" fontSize={42} dy={10}>attn</tspan>
            <tspan dy={-10}>)‖</tspan>
            <tspan fontSize={42} dy={10}>2</tspan>
          </text>
          <line x1={-555} x2={-140} y1={100} y2={100} stroke="#000" strokeWidth={3.5} />
          <text
            x={-467}
            y={165}
            fontFamily="'DejaVu Serif', serif"
            fontSize={60}
            textLength={239}
            lengthAdjust="spacingAndGlyphs"
          >
            ‖<tspan fontStyle="italic">h</tspan>
            <tspan fontStyle="italic" fontSize={42} dy={10}>attn</tspan>
            <tspan dy={-10}>‖</tspan>
            <tspan fontSize={42} dy={10}>2</tspan>
          </text>
        </g>

        {/* inset */}
        <rect x={470} y={125} width={1515 - 470} height={905 - 125} fill="#fff" />
        <g stroke={GRID} strokeWidth={2}>
          {INSET_X_TICKS.map((t) => (
            <line key={`igx${t}`} x1={xIn(t)} x2={xIn(t)} y1={iy1} y2={iy0} />
          ))}
          {INSET_Y_TICKS.map((t) => (
            <line key={`igy${t}`} x1={ix0} x2={ix1} y1={yIn(t)} y2={yIn(t)} />
          ))}
        </g>
        <g clipPath="url(#inset-clip)" fill="none" strokeLinejoin="round">
          {LAYERS.map((name, k) => (
            <path key={name} d={insetLine(visSeries(k)) || ""} stroke={COLORS[k]} strokeWidth={5.5} />
          ))}
        </g>
        <rect x={ix0} y={iy1} width={ix1 - ix0} height={iy0 - iy1} fill="none" stroke="#000" strokeWidth={2} />
        <g stroke="#000" strokeWidth={1.8}>
          {INSET_Y_TICKS.map((t) => (
            <line key={`ity${t}`} x1={ix0 - 7} x2={ix0} y1={yIn(t)} y2={yIn(t)} />
          ))}
          {INSET_X_TICKS.map((t) => (
            <line key={`itx${t}`} x1={xIn(t)} x2={xIn(t)} y1={iy0} y2={iy0 + 7} />
          ))}
        </g>
        <g fontFamily={MPL_FONT} fontSize={24.5} fill="#000" textAnchor="end">
          {INSET_Y_TICKS.map((t, i) => (
            <text key={`ily${t}`} x={531} y={yIn(t)} dominantBaseline="central">
              {INSET_Y_LABELS[i]}
            </text>
          ))}
        </g>
        <g fontFamily={CALIBRI_LIKE} fontSize={28} fill="#000" textAnchor="middle">
          {INSET_X_TICKS.map((t) => (
            <text
              key={`ilx${t}`}
              x={xIn(t)}
              y={891}
              textLength={15.6 * String(t).length}
              lengthAdjust="spacingAndGlyphs"
            >
              {t}
            </text>
          ))}
        </g>

        {/* arrow + note */}
        <line
          x1={ax0}
          y1={ay0}
          x2={bx}
          y2={by}
          stroke="#c00000"
          strokeWidth={2.6}
          strokeDasharray="16 9"
        />
        <polygon points={head} fill="#c00000" />
        <text
          x={xMain(NOTE_AT[0])}
          y={yMain(NOTE_AT[1])}
          fontFamily={CALIBRI_LIKE}
          fontSize={68}
          fill="#c00000"
          textLength={387}
          lengthAdjust="spacingAndGlyphs"
        >
          Visual tokens
        </text>

        {/* legend */}
        <rect x={1605} y={68} width={339} height={425} rx={9} fill="#fff" fillOpacity={0.8} stroke="#d0d0d0" strokeWidth={2} />
        {LAYERS.map((name, k) => (
          <g key={`lg${name}`}>
            <line x1={1619} x2={1718} y1={legendRowY(k)} y2={legendRowY(k)} stroke={COLORS[k]} strokeWidth={5.5} />
            <text x={1753} y={legendRowY(k) + 17} fontFamily={MPL_FONT} fontSize={45} fill="#1a1a1a">
              {name}
            </text>
          </g>
        ))}
      </svg>
    </div>
  );
}
